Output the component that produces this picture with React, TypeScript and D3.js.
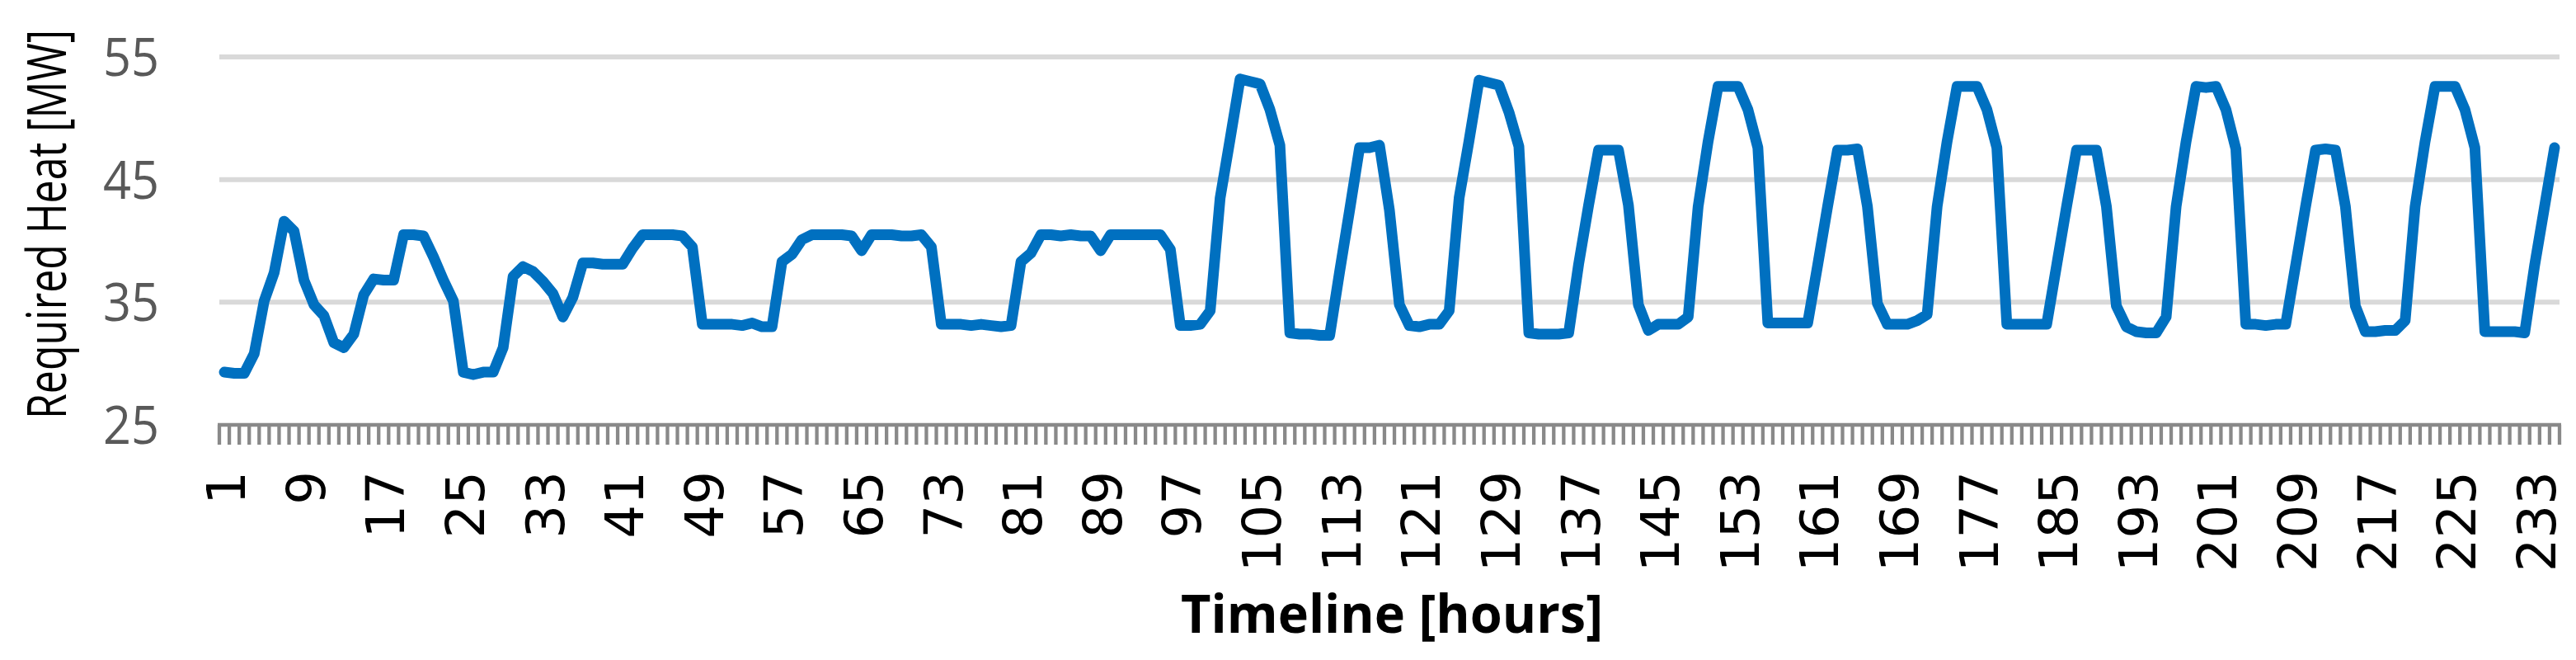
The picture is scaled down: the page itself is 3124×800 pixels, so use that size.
import * as d3 from "d3";

const WIDTH = 3124;
const HEIGHT = 800;
const PLOT = { left: 266, right: 3104, top: 69, bottom: 515 };

// hourly required heat [MW], hours 1..235
const requiredHeat = [
  29.3, 29.2, 29.2, 30.8, 35.1, 37.4, 41.6, 40.8, 36.8, 34.8, 33.9, 31.7, 31.3, 32.4, 35.6, 36.9,
  36.8, 36.8, 40.5, 40.5, 40.4, 38.7, 36.8, 35.1, 29.3, 29.1, 29.3, 29.3, 31.3, 37.1, 37.9, 37.5,
  36.7, 35.7, 33.8, 35.4, 38.2, 38.2, 38.1, 38.1, 38.1, 39.4, 40.5, 40.5, 40.5, 40.5, 40.4, 39.5,
  33.2, 33.2, 33.2, 33.2, 33.1, 33.3, 33.0, 33.0, 38.3, 38.9, 40.1, 40.5, 40.5, 40.5, 40.5, 40.4,
  39.2, 40.5, 40.5, 40.5, 40.4, 40.4, 40.5, 39.5, 33.2, 33.2, 33.2, 33.1, 33.2, 33.1, 33.0, 33.1,
  38.3, 39.0, 40.5, 40.5, 40.4, 40.5, 40.4, 40.4, 39.2, 40.5, 40.5, 40.5, 40.5, 40.5, 40.5, 39.3,
  33.1, 33.1, 33.2, 34.3, 43.5, 48.3, 53.2, 53.0, 52.8, 50.7, 47.8, 32.5, 32.4, 32.4, 32.3, 32.3,
  37.5, 42.5, 47.6, 47.6, 47.8, 42.5, 34.8, 33.1, 33.0, 33.2, 33.2, 34.3, 43.5, 48.2, 53.1, 52.9,
  52.7, 50.5, 47.7, 32.5, 32.4, 32.4, 32.4, 32.5, 38.1, 42.9, 47.4, 47.4, 47.4, 42.9, 34.8, 32.7,
  33.2, 33.2, 33.2, 33.8, 42.8, 48.1, 52.6, 52.6, 52.6, 50.7, 47.6, 33.3, 33.3, 33.3, 33.3, 33.3,
  38.0, 42.8, 47.4, 47.4, 47.5, 42.8, 34.9, 33.2, 33.2, 33.2, 33.5, 34.0, 42.8, 48.1, 52.6, 52.6,
  52.6, 50.7, 47.6, 33.2, 33.2, 33.2, 33.2, 33.2, 38.0, 42.8, 47.4, 47.4, 47.4, 42.8, 34.7, 33.0,
  32.6, 32.5, 32.5, 33.8, 42.8, 48.1, 52.6, 52.5, 52.6, 50.7, 47.5, 33.2, 33.2, 33.1, 33.2, 33.2,
  38.0, 42.8, 47.4, 47.5, 47.4, 42.8, 34.7, 32.6, 32.6, 32.7, 32.7, 33.5, 42.8, 48.1, 52.6, 52.6,
  52.6, 50.7, 47.6, 32.6, 32.6, 32.6, 32.6, 32.5, 38.0, 42.8, 47.6,
];

const yTicks = [25, 35, 45, 55];
const LABEL_STEP = 8;
const Y_TITLE = "Required Heat [MW]";
const X_TITLE = "Timeline [hours]";

export default function App() {
  const hours = requiredHeat.map((_, i) => i + 1);

  const x = d3.scaleBand<number>().domain(hours).range([PLOT.left, PLOT.right]);
  const y = d3.scaleLinear().domain([25, 55]).range([PLOT.bottom, PLOT.top]);
  const bw = x.bandwidth();
  const cx = (h: number) => (x(h) as number) + bw / 2;

  const path = d3
    .line<number>()
    .x((_, i) => cx(hours[i]))
    .y((d) => y(d))(requiredHeat);

  // tick marks sit on the category boundaries
  const tickXs = [...hours.map((h) => x(h) as number), PLOT.right];
  const labelHours = hours.filter((h) => (h - 1) % LABEL_STEP === 0);

  return (
    <div style={{ position: "absolute", left: 0, top: 0 }}>
      <svg width={WIDTH} height={HEIGHT} style={{ display: "block", background: "#fff" }}>
        {yTicks.slice(1).map((t) => (
          <line key={t} x1={PLOT.left} x2={PLOT.right} y1={y(t)} y2={y(t)} stroke="#d9d9d9" strokeWidth={6} />
        ))}

        {yTicks.map((t) => (
          <text
            key={t}
            x={193}
            y={y(t)}
            dy="0.36em"
            textAnchor="end"
            fontFamily="Open Sans"
            fontSize={64}
            fill="#595959"
            textLength={68}
            lengthAdjust="spacingAndGlyphs"
          >
            {t}
          </text>
        ))}

        <line x1={PLOT.left - 2} x2={PLOT.right + 2} y1={y(25)} y2={y(25)} stroke="#898989" strokeWidth={4.5} />
        {tickXs.map((tx, i) => (
          <line key={i} x1={tx} x2={tx} y1={y(25)} y2={y(25) + 24} stroke="#898989" strokeWidth={4.3} />
        ))}

        {labelHours.map((h) => (
          <text
            key={h}
            transform={`translate(${cx(h) + 2},571) rotate(-90)`}
            dy="0.36em"
            textAnchor="end"
            fontFamily="DejaVu Sans"
            fontSize={64}
            fill="#000"
          >
            {h}
          </text>
        ))}

        <path d={path ?? ""} fill="none" stroke="#0070c0" strokeWidth={13} strokeLinejoin="round" strokeLinecap="round" />

        <text
          transform="translate(80,272) rotate(-90)"
          textAnchor="middle"
          fontFamily="Open Sans"
          fontSize={66}
          fill="#000"
          textLength={472}
          lengthAdjust="spacingAndGlyphs"
        >
          {Y_TITLE}
        </text>

        <text
          x={1688}
          y={767}
          textAnchor="middle"
          fontFamily="Open Sans"
          fontWeight="bold"
          fontSize={64}
          fill="#000"
          textLength={512}
          lengthAdjust="spacingAndGlyphs"
        >
          {X_TITLE}
        </text>
      </svg>
    </div>
  );
}
